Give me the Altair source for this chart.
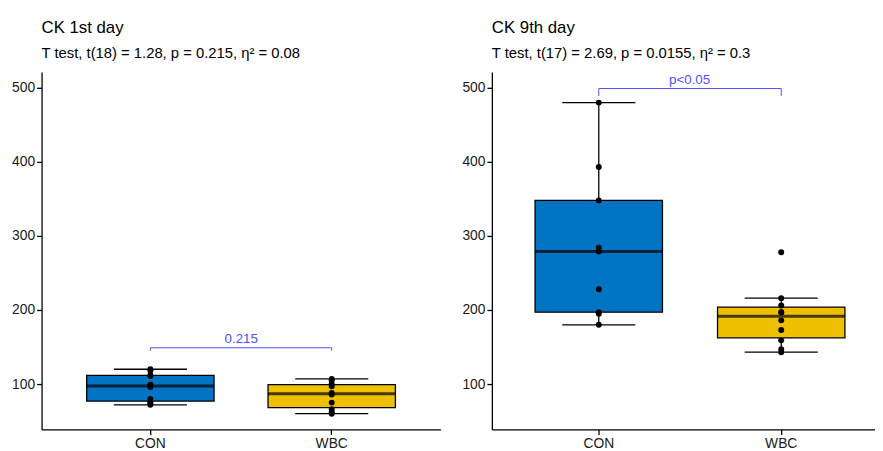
import altair as alt
import pandas as pd

groups = ["CON", "WBC"]
box_colors = ["#0073C2", "#EFC000"]

# CK values
day1_con = [72, 74, 76, 80, 96, 99, 111, 112, 118, 120]
day1_wbc = [60, 62, 66, 75, 86, 88, 97, 100, 105, 107]
day9_con = [180, 195, 197, 228, 279, 284, 348, 393, 480]
day9_wbc = [143, 147, 159, 173, 186, 197, 197, 206, 216, 278]

titles = ["CK 1st day", "CK 9th day"]
subtitles = [
    "T test, t(18) = 1.28, p = 0.215, η² = 0.08",
    "T test, t(17) = 2.69, p = 0.0155, η² = 0.3",
]
sig_labels = ["0.215", "p<0.05"]
bracket_y = [149, 499]
bracket_tip = [145, 489]

y_domain = [38.7, 521.3]
y_ticks = [100, 200, 300, 400, 500]
FONT = "Liberation Sans"


def panel(con, wbc, title, subtitle, label, by, tip, width, pad_outer, align):
    df = pd.DataFrame({
        "group": ["CON"] * len(con) + ["WBC"] * len(wbc),
        "value": con + wbc,
    })
    br = pd.DataFrame({
        "group": ["CON", "CON", "WBC", "WBC"],
        "value": [tip, by, by, tip],
        "order": [0, 1, 2, 3],
    })
    lab = pd.DataFrame({"group": ["CON"], "value": [by], "label": [label]})

    xs = alt.Scale(domain=groups, paddingInner=0.3, paddingOuter=pad_outer, align=align)
    ys = alt.Scale(domain=y_domain, nice=False, zero=False)
    x = alt.X("group:N", scale=xs, axis=alt.Axis(title=None, labelAngle=0))
    y = alt.Y("value:Q", scale=ys, axis=alt.Axis(title=None, values=y_ticks, grid=False))

    box = alt.Chart(df).mark_boxplot(
        size=129,
        extent=1.5,
        outliers=False,
        box={"stroke": "black", "strokeWidth": 1.3},
        median={"color": "black", "thickness": 3},
        rule={"color": "black", "strokeWidth": 1.3},
        ticks={"color": "black", "size": 74, "thickness": 1.3},
    ).encode(
        x=x, y=y,
        color=alt.Color("group:N", scale=alt.Scale(domain=groups, range=box_colors), legend=None),
    )
    pts = alt.Chart(df).mark_circle(size=36, color="black", opacity=1).encode(x=x, y=y)
    bracket = alt.Chart(br).mark_line(color="#4F4FFF", strokeWidth=1).encode(
        x=x, y=y, order="order:Q"
    )
    txt = alt.Chart(lab).mark_text(
        color="#4F4FFF", fontSize=13.5, font=FONT, baseline="bottom", dx=92, dy=-2
    ).encode(x=x, y=y, text="label:N")

    return alt.layer(box, pts, bracket, txt).properties(
        width=width,
        height=362,
        title=alt.TitleParams(
            text=title,
            subtitle=subtitle,
            anchor="start",
            frame="group",
            font=FONT,
            fontSize=17,
            fontWeight="normal",
            color="black",
            subtitleFont=FONT,
            subtitleFontSize=15,
            subtitleColor="black",
            subtitlePadding=9,
            offset=10,
        ),
    )


left = panel(day1_con, day1_wbc, titles[0], subtitles[0], sig_labels[0],
             bracket_y[0], bracket_tip[0], 404, 0.25, 0.5)
right = panel(day9_con, day9_wbc, titles[1], subtitles[1], sig_labels[1],
              bracket_y[1], bracket_tip[1], 388, 0.2, 0.59)

chart = alt.hconcat(left, right, spacing=21).configure(
    padding={"left": 3, "top": 9, "right": 0, "bottom": 0}
).configure_view(stroke=None).configure_axis(
    domainColor="black",
    domainWidth=1.3,
    tickColor="black",
    tickWidth=1.3,
    tickSize=5,
    labelFont=FONT,
    labelFontSize=14,
    labelColor="#1a1a1a",
    labelPadding=2,
)

chart.save("out.html", embed_options={"renderer": "svg", "actions": False})
